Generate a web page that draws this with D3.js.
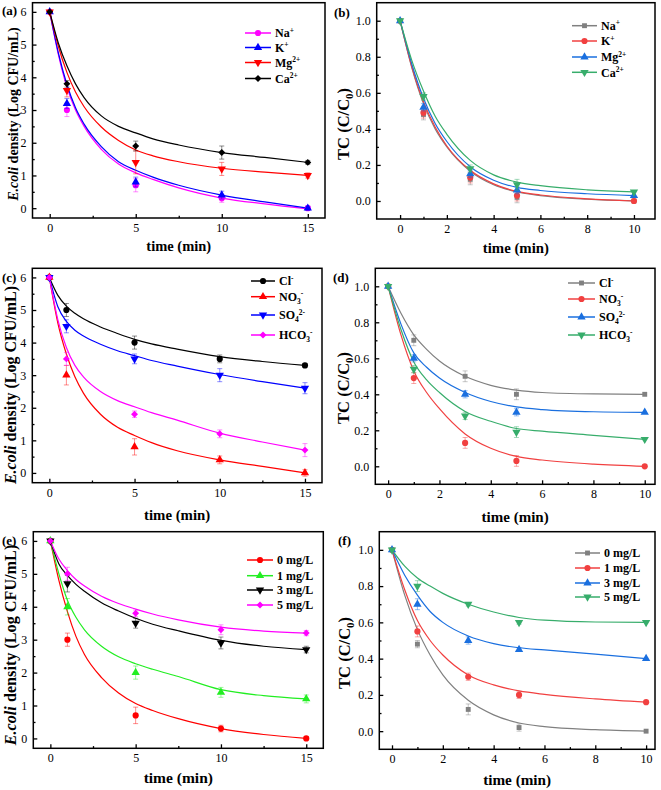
<!DOCTYPE html>
<html><head><meta charset="utf-8">
<script src="https://cdn.jsdelivr.net/npm/d3@7"></script>
<style>body{margin:0;background:#fff;} svg{display:block;}</style>
</head><body>
<svg id="chart" width="661" height="790"></svg>
<script>
// ---------------- DATA ----------------
const ecoliTime = [0, 1, 5, 10, 15];
const tcTime = [0, 1, 3, 5, 10];
const ecoliFitTime = [0, 0.5, 1, 1.5, 2, 3, 4, 5, 6, 7.5, 10, 12.5, 15];
const tcFitTime = [0, 0.5, 1, 1.5, 2, 3, 4, 5, 6, 8, 10];

const ecoliXTicks = [0, 5, 10, 15];
const ecoliXMinor = [2.5, 7.5, 12.5];
const ecoliYTicks = [0, 1, 2, 3, 4, 5, 6];
const ecoliYMinor = [0.5, 1.5, 2.5, 3.5, 4.5, 5.5];
const tcXTicks = [0, 2, 4, 6, 8, 10];
const tcXMinor = [1, 3, 5, 7, 9];
const tcYTicks = [0.0, 0.2, 0.4, 0.6, 0.8, 1.0];
const tcYMinor = [0.1, 0.3, 0.5, 0.7, 0.9];

const cationNames = ["Na^{+}", "K^{+}", "Mg^{2+}", "Ca^{2+}"];
const anionNames = ["Cl^{-}", "NO_{3}^{-}", "SO_{4}^{2-}", "HCO_{3}^{-}"];
const doseNames = ["0 mg/L", "1 mg/L", "3 mg/L", "5 mg/L"];

// (a) E.coli, cations
const aValues = [[6, 3.0, 0.7, 0.3, 0.0], [6, 3.2, 0.8, 0.4, 0.0], [6, 3.6, 1.4, 1.2, 1.0], [6, 3.8, 1.9, 1.7, 1.4]];
const aErrors = [[0, 0.2, 0.2, 0.12, 0.06], [0, 0.15, 0.15, 0.12, 0.06], [0, 0.2, 0.35, 0.2, 0.08], [0, 0.1, 0.15, 0.2, 0.06]];
const aFits = [
  [6, 4.7, 3.7, 3.0, 2.5, 1.8, 1.35, 1.08, 0.88, 0.62, 0.31, 0.13, -0.02],
  [6, 4.75, 3.78, 3.07, 2.57, 1.88, 1.42, 1.16, 0.95, 0.7, 0.4, 0.19, 0.0],
  [6, 4.95, 4.15, 3.55, 3.1, 2.48, 2.07, 1.78, 1.6, 1.42, 1.22, 1.1, 1.0],
  [6, 5.05, 4.35, 3.8, 3.38, 2.82, 2.5, 2.3, 2.12, 1.93, 1.7, 1.55, 1.4]];

// (b) TC, cations
const bValues = [[1, 0.48, 0.12, 0.02, 0.0], [1, 0.49, 0.13, 0.03, 0.0], [1, 0.52, 0.15, 0.06, 0.03], [1, 0.58, 0.18, 0.09, 0.05]];
const bErrors = [[0, 0.03, 0.03, 0.03, 0.005], [0, 0.03, 0.03, 0.03, 0.005], [0, 0.02, 0.02, 0.02, 0.005], [0, 0.02, 0.02, 0.03, 0.005]];
const bFits = [
  [1, 0.74, 0.54, 0.4, 0.3, 0.165, 0.09, 0.05, 0.03, 0.01, 0.0],
  [1, 0.745, 0.55, 0.41, 0.305, 0.17, 0.095, 0.053, 0.033, 0.012, 0.0],
  [1, 0.76, 0.57, 0.43, 0.33, 0.19, 0.115, 0.075, 0.058, 0.04, 0.03],
  [1, 0.78, 0.61, 0.47, 0.37, 0.225, 0.145, 0.105, 0.085, 0.062, 0.05]];

// (c) E.coli, anions
const cValues = [[6, 5.0, 4.0, 3.5, 3.3], [6, 3.0, 0.8, 0.4, 0.0], [6, 4.5, 3.5, 3.0, 2.6], [6, 3.5, 1.8, 1.2, 0.7]];
const cErrors = [[0, 0.2, 0.2, 0.12, 0.06], [0, 0.3, 0.25, 0.12, 0.1], [0, 0.2, 0.15, 0.2, 0.17], [0, 0.2, 0.1, 0.12, 0.2]];
const cFits = [
  [6, 5.45, 5.12, 4.9, 4.73, 4.48, 4.28, 4.1, 3.96, 3.8, 3.57, 3.42, 3.3],
  [6, 4.6, 3.65, 2.95, 2.45, 1.8, 1.4, 1.15, 0.93, 0.68, 0.4, 0.2, 0.0],
  [6, 5.1, 4.65, 4.38, 4.2, 3.95, 3.75, 3.6, 3.45, 3.28, 3.02, 2.8, 2.6],
  [6, 4.7, 3.85, 3.3, 2.95, 2.5, 2.22, 2.03, 1.85, 1.62, 1.22, 0.95, 0.7]];

// (d) TC, anions
const dValues = [[1, 0.7, 0.5, 0.4, 0.4], [1, 0.49, 0.13, 0.03, 0.0], [1, 0.6, 0.4, 0.3, 0.3], [1, 0.54, 0.28, 0.19, 0.15]];
const dErrors = [[0, 0.03, 0.03, 0.03, 0.005], [0, 0.03, 0.03, 0.03, 0.005], [0, 0.02, 0.02, 0.02, 0.005], [0, 0.02, 0.02, 0.03, 0.005]];
const dFits = [
  [1, 0.85, 0.73, 0.65, 0.585, 0.5, 0.45, 0.423, 0.41, 0.402, 0.4],
  [1, 0.73, 0.53, 0.41, 0.32, 0.18, 0.1, 0.055, 0.035, 0.012, 0.0],
  [1, 0.79, 0.63, 0.55, 0.49, 0.41, 0.36, 0.33, 0.315, 0.303, 0.3],
  [1, 0.76, 0.58, 0.48, 0.41, 0.305, 0.25, 0.21, 0.195, 0.172, 0.15]];

// (e) E.coli, dose
const eValues = [[6, 3.0, 0.7, 0.3, 0.0], [6, 4.0, 2.0, 1.4, 1.2], [6, 4.7, 3.5, 2.9, 2.7], [6, 5.0, 3.8, 3.3, 3.2]];
const eErrors = [[0, 0.2, 0.25, 0.1, 0.05], [0, 0.25, 0.2, 0.15, 0.12], [0, 0.25, 0.15, 0.18, 0.1], [0, 0.2, 0.1, 0.15, 0.08]];
const eFits = [
  [6, 4.8, 3.85, 3.1, 2.55, 1.85, 1.38, 1.06, 0.85, 0.6, 0.3, 0.12, 0.0],
  [6, 5.0, 4.2, 3.68, 3.3, 2.8, 2.48, 2.27, 2.1, 1.88, 1.48, 1.3, 1.2],
  [6, 5.3, 4.95, 4.68, 4.47, 4.12, 3.87, 3.65, 3.47, 3.27, 2.98, 2.8, 2.7],
  [6, 5.45, 5.1, 4.83, 4.63, 4.32, 4.1, 3.93, 3.78, 3.6, 3.38, 3.26, 3.2]];

// (f) TC, dose
const fValues = [[1, 0.48, 0.12, 0.02, 0.0], [1, 0.55, 0.3, 0.2, 0.16], [1, 0.7, 0.5, 0.45, 0.4], [1, 0.8, 0.7, 0.6, 0.6]];
const fErrors = [[0, 0.02, 0.03, 0.02, 0.005], [0, 0.03, 0.02, 0.02, 0.005], [0, 0.03, 0.02, 0.01, 0.005], [0, 0.03, 0.01, 0.01, 0.005]];
const fFits = [
  [1, 0.75, 0.56, 0.42, 0.31, 0.17, 0.09, 0.045, 0.025, 0.008, 0.0],
  [1, 0.78, 0.61, 0.5, 0.42, 0.31, 0.255, 0.222, 0.203, 0.178, 0.16],
  [1, 0.86, 0.75, 0.66, 0.6, 0.525, 0.483, 0.46, 0.448, 0.425, 0.4],
  [1, 0.91, 0.845, 0.8, 0.76, 0.7, 0.657, 0.627, 0.612, 0.602, 0.6]];

// ---------------- STYLE / LAYOUT ----------------
const originColors = ["#808080", "#F14040", "#1A6FDF", "#37AD6B"];
const FONT = "'Liberation Serif','Times New Roman',Times,serif";

const panels = [
  {label: "(a)", lab: [2, 15], frame: [32.5, 2.7, 325, 218], kind: "ecoli", xDom: [-1, 16], time: ecoliTime, fitTime: ecoliFitTime,
   values: aValues, errors: aErrors, fits: aFits, names: cationNames,
   colors: ["#FF00FF", "#0000FF", "#FF0000", "#000000"], shapes: ["circle", "up", "down", "diamond"],
   legend: {x1: 245, x2: 271, tx: 275, rows: [33, 47.5, 62.5, 78.5]}, yTitle: [18, 114], yFs: 14, xTitleY: 251, xFs: 14.5},
  {label: "(b)", lab: [334, 17], frame: [376.7, 2.7, 655, 219], kind: "tc", xDom: [-1, 10.9], time: tcTime, fitTime: tcFitTime,
   values: bValues, errors: bErrors, fits: bFits, names: cationNames,
   colors: originColors, shapes: ["square", "circle", "up", "down"],
   legend: {x1: 572, x2: 597, tx: 601, rows: [25.7, 41, 57, 72.3]}, yTitle: [349, 124], yFs: 16.5, xTitleY: 253, xFs: 14.8},
  {label: "(c)", lab: [2, 282], frame: [32.3, 268.3, 322, 482.7], kind: "ecoli", xDom: [-1, 16], time: ecoliTime, fitTime: ecoliFitTime,
   values: cValues, errors: cErrors, fits: cFits, names: anionNames,
   colors: ["#000000", "#FF0000", "#0000FF", "#FF00FF"], shapes: ["circle", "up", "down", "diamond"],
   legend: {x1: 251, x2: 275, tx: 279, rows: [281, 296.7, 315, 335]}, yTitle: [16, 385], yFs: 16, xTitleY: 520, xFs: 14.8},
  {label: "(d)", lab: [333, 282], frame: [375.3, 268.3, 655, 484.3], kind: "tc", xDom: [-0.5, 10.4], time: tcTime, fitTime: tcFitTime,
   values: dValues, errors: dErrors, fits: dFits, names: anionNames,
   colors: originColors, shapes: ["square", "circle", "up", "down"],
   legend: {x1: 568, x2: 595, tx: 599, rows: [283, 299, 317, 335]}, yTitle: [349, 388], yFs: 16.5, xTitleY: 522, xFs: 15},
  {label: "(e)", lab: [2, 545], frame: [33.3, 531.7, 323.3, 748.3], kind: "ecoli", xDom: [-1, 16], time: ecoliTime, fitTime: ecoliFitTime,
   values: eValues, errors: eErrors, fits: eFits, names: doseNames,
   colors: ["#FF0000", "#22EE22", "#000000", "#FF00FF"], shapes: ["circle", "up", "down", "diamond"],
   legend: {x1: 247, x2: 273, tx: 277, rows: [560, 575.7, 590, 605]}, yTitle: [16, 645], yFs: 16.2, xTitleY: 783, xFs: 15.5},
  {label: "(f)", lab: [338, 545], frame: [379.3, 531.7, 655, 749.3], kind: "tc", xDom: [-0.5, 10.35], time: tcTime, fitTime: tcFitTime,
   values: fValues, errors: fErrors, fits: fFits, names: doseNames,
   colors: originColors, shapes: ["square", "circle", "up", "down"],
   legend: {x1: 575, x2: 600, tx: 604, rows: [553, 568, 583, 597]}, yTitle: [350, 653], yFs: 16.5, xTitleY: 785, xFs: 15.2}
];

const svg = d3.select("#chart");
svg.append("rect").attr("width", 661).attr("height", 790).attr("fill", "#fff");

function symbolPath(shape) {
  if (shape === "circle") return d3.symbol().type(d3.symbolCircle).size(30)();
  if (shape === "square") return d3.symbol().type(d3.symbolSquare).size(24)();
  if (shape === "diamond") return d3.symbol().type(d3.symbolSquare).size(24)();
  return d3.symbol().type(d3.symbolTriangle).size(30)();
}
function symbolRot(shape) {
  if (shape === "down") return 180;
  if (shape === "diamond") return 45;
  return 0;
}

function richText(sel, str, size) {
  const toks = str.match(/(\^\{[^}]*\}|_\{[^}]*\}|[^^_]+)/g);
  let cur = 0;
  toks.forEach(t => {
    let shift = 0, txt = t, fs = size;
    if (t.startsWith("^{")) { shift = -size * 0.38; txt = t.slice(2, -1); fs = size * 0.62; }
    else if (t.startsWith("_{")) { shift = size * 0.25; txt = t.slice(2, -1); fs = size * 0.62; }
    sel.append("tspan").attr("dy", shift - cur).attr("font-size", fs).text(txt);
    cur = shift;
  });
}

panels.forEach(p => {
  const [fx0, fy0, fx1, fy1] = p.frame;
  const x = d3.scaleLinear().domain(p.xDom).range([fx0, fx1]);
  const yDom = p.kind === "ecoli" ? [-0.3, 6.28] : [-0.1, 1.1];
  const y = d3.scaleLinear().domain(yDom).range([fy1, fy0]);
  const g = svg.append("g");

  const xt = p.kind === "ecoli" ? ecoliXTicks : tcXTicks;
  const xm = p.kind === "ecoli" ? ecoliXMinor : tcXMinor;
  const yt = p.kind === "ecoli" ? ecoliYTicks : tcYTicks;
  const ym = p.kind === "ecoli" ? ecoliYMinor : tcYMinor;
  const yfmt = p.kind === "ecoli" ? d3.format("d") : d3.format(".1f");

  // axes (inward ticks)
  const ax = g.append("g").attr("transform", `translate(0,${fy1})`)
    .call(d3.axisBottom(x).tickValues(xt).tickSize(-4).tickPadding(5.5).tickFormat(d3.format("d")));
  const axm = g.append("g").attr("transform", `translate(0,${fy1})`)
    .call(d3.axisBottom(x).tickValues(xm).tickSize(-2.2).tickFormat(""));
  const ay = g.append("g").attr("transform", `translate(${fx0},0)`)
    .call(d3.axisLeft(y).tickValues(yt).tickSize(-4).tickPadding(6).tickFormat(yfmt));
  const aym = g.append("g").attr("transform", `translate(${fx0},0)`)
    .call(d3.axisLeft(y).tickValues(ym).tickSize(-2.2).tickFormat(""));
  [ax, axm, ay, aym].forEach(a => {
    a.select(".domain").remove();
    a.selectAll("line").attr("stroke", "#000").attr("stroke-width", 1.3);
    a.selectAll("text").attr("font-family", FONT).attr("font-size", 12).attr("fill", "#000");
  });

  // fitted curves
  const line = d3.line().x((d, i) => x(p.fitTime[i])).y(d => y(d)).curve(d3.curveMonotoneX);
  p.fits.forEach((f, si) => {
    g.append("path").attr("d", line(f)).attr("fill", "none")
      .attr("stroke", p.colors[si]).attr("stroke-width", 1.2);
  });

  // error bars + markers
  p.values.forEach((vals, si) => {
    const col = p.colors[si];
    vals.forEach((v, i) => {
      const e = p.errors[si][i];
      if (e > 0.006) {
        const cx = x(p.time[i]);
        const eg = g.append("g").attr("stroke", col).attr("stroke-opacity", 0.45).attr("stroke-width", 1);
        eg.append("line").attr("x1", cx).attr("x2", cx).attr("y1", y(v - e)).attr("y2", y(v + e));
        eg.append("line").attr("x1", cx - 2.5).attr("x2", cx + 2.5).attr("y1", y(v - e)).attr("y2", y(v - e));
        eg.append("line").attr("x1", cx - 2.5).attr("x2", cx + 2.5).attr("y1", y(v + e)).attr("y2", y(v + e));
      }
    });
    vals.forEach((v, i) => {
      g.append("path").attr("d", symbolPath(p.shapes[si]))
        .attr("transform", `translate(${x(p.time[i])},${y(v)}) rotate(${symbolRot(p.shapes[si])})`)
        .attr("fill", col);
    });
  });

  // frame
  g.append("rect").attr("x", fx0).attr("y", fy0).attr("width", fx1 - fx0).attr("height", fy1 - fy0)
    .attr("fill", "none").attr("stroke", "#000").attr("stroke-width", 1.5);

  // legend
  p.names.forEach((nm, si) => {
    const ly = p.legend.rows[si];
    const col = p.colors[si];
    g.append("line").attr("x1", p.legend.x1).attr("x2", p.legend.x2).attr("y1", ly).attr("y2", ly)
      .attr("stroke", col).attr("stroke-width", 1.5);
    g.append("path").attr("d", symbolPath(p.shapes[si]))
      .attr("transform", `translate(${(p.legend.x1 + p.legend.x2) / 2},${ly}) rotate(${symbolRot(p.shapes[si])})`)
      .attr("fill", col);
    const t = g.append("text").attr("x", p.legend.tx).attr("y", ly + 4.3)
      .attr("font-family", FONT).attr("font-weight", "bold").attr("font-size", 12).attr("fill", "#000");
    richText(t, nm, 12);
  });

  // panel label
  g.append("text").attr("x", p.lab[0]).attr("y", p.lab[1]).text(p.label)
    .attr("font-family", FONT).attr("font-weight", "bold").attr("font-size", 13);

  // x title
  g.append("text").attr("x", (fx0 + fx1) / 2).attr("y", p.xTitleY).attr("text-anchor", "middle")
    .attr("font-family", FONT).attr("font-weight", "bold").attr("font-size", p.xFs).text("time (min)");

  // y title
  const yt2 = g.append("text").attr("transform", `translate(${p.yTitle[0]},${p.yTitle[1]}) rotate(-90)`)
    .attr("text-anchor", "middle").attr("font-family", FONT).attr("font-weight", "bold").attr("font-size", p.yFs);
  if (p.kind === "ecoli") {
    yt2.append("tspan").attr("font-style", "italic").text("E.coli");
    yt2.append("tspan").text(" density (Log CFU/mL)");
  } else {
    yt2.append("tspan").text("TC (C/C");
    yt2.append("tspan").attr("font-size", p.yFs * 0.65).attr("dy", 3.5).text("0");
    yt2.append("tspan").attr("dy", -3.5).text(")");
  }
});
</script>
</body></html>
